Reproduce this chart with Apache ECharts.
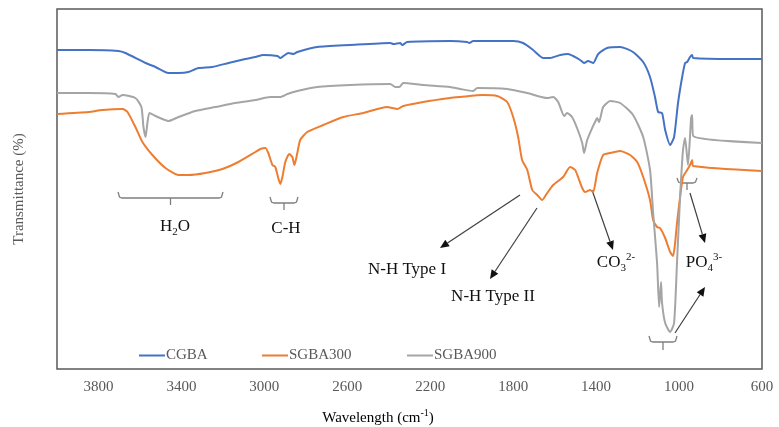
<!DOCTYPE html>
<html>
<head>
<meta charset="utf-8">
<script src="https://cdn.jsdelivr.net/npm/echarts@6/dist/echarts.min.js"></script>
<style>
  html, body { margin: 0; padding: 0; background: #fff; }
  #chart { width: 779px; height: 427px; }
</style>
</head>
<body>
<div id="chart"></div>
<script>
// FTIR spectra: wavenumber (cm-1) and relative transmittance (offset traces)
const seriesNames = ['CGBA', 'SGBA300', 'SGBA900'];

const cgbaWave = [4000,3848,3704,3670,3573,3525,3463,3414,3366,3318,3251,3173,3092,3043,3005,2937,2923,2908,2884,2860,2841,2745,2586,2393,2378,2345,2335,2311,2104,2022,2012,1993,1800,1752,1704,1655,1622,1573,1535,1511,1477,1458,1439,1414,1390,1347,1284,1222,1173,1140,1116,1101,1082,1067,1043,1024,1005,985,971,961,947,937,932,740,600];
const cgbaT = [159.5,159.5,159,158,153,151,148,148,148.5,150.5,151,153,155,156,157,156.5,155.5,156.5,158,157.5,158.5,161,162,163,162.5,163,162,163.5,164,163.5,163,164,164,163,159.5,155.5,155.5,157,157.5,156.5,154.5,153,154,153,157.5,160.5,161,158.5,153.5,146,136,128.5,128,119.5,112,116,133,146,153,153.5,156,157,155.5,155,155];

const sgba300Wave = [4000,3848,3781,3684,3660,3622,3588,3540,3477,3414,3366,3284,3202,3125,3043,3019,2995,2981,2961,2947,2933,2923,2913,2899,2880,2865,2855,2841,2827,2793,2716,2619,2523,2407,2383,2359,2330,2234,2104,2055,1945,1877,1829,1800,1776,1757,1732,1708,1684,1660,1636,1607,1559,1525,1501,1487,1467,1453,1429,1414,1395,1366,1332,1284,1236,1202,1173,1140,1125,1106,1092,1067,1043,1029,1019,1010,995,981,961,947,937,932,600];
const sgba300T = [127.5,128.5,129.5,130,128.5,121,113.5,107,100.5,97,97,98,100,103.5,108.5,110,110.5,108,102,101,95.5,92.5,96,103.5,107.5,106,102,108,114.5,118.5,122,126,128,131,130.5,130,131.5,133.5,135.5,136,137,136.5,133.5,126,116,104.5,99.5,89.5,87,84.5,88,92,96,101,99.5,96,90.5,88.5,89.5,88.5,98,107,108,109,107,103.5,96,84.5,74.5,71,70.5,65.5,58.5,56.5,63,73,86,96,99.5,102,104.5,101.5,99];

const sgba900Wave = [4000,3848,3718,3704,3684,3622,3593,3583,3573,3564,3554,3525,3492,3463,3414,3333,3236,3140,3043,2971,2923,2889,2841,2745,2586,2393,2369,2349,2330,2234,2104,2055,1993,1973,1829,1732,1636,1607,1583,1554,1540,1516,1492,1467,1458,1443,1419,1405,1395,1386,1366,1332,1284,1222,1173,1140,1125,1106,1096,1087,1082,1067,1043,1024,1010,995,981,971,957,942,937,932,600];
const sgba900T = [138,138,137.5,136,137,135.5,131,121,116,123,128,126.5,125,124,126,129,131,133,134.5,136,136,137.5,139,141,142,142.5,141,141,143,142,141,140,139,140.5,140,138,135.5,136,133.5,126.5,128,126,120.5,113,108,114.5,120.5,123.5,125.5,123.5,131,134,133,127,116,99.5,78,53,31,43.5,33,23,18.5,23,53,86,109.5,115.5,102,125.5,127,116.5,113];

const xMin = 600, xMax = 4000, xStep = 200, xLabelStep = 400;

function pairs(xs, ys) {
  const out = [];
  for (let i = 0; i < Math.min(xs.length, ys.length); i++) out.push([xs[i], ys[i]]);
  return out;
}

const serif = '"Liberation Serif", "Times New Roman", serif';
const axisGrey = '#595959';
const colors = ['#4472C4', '#ED7D31', '#A5A5A5'];

const chart = echarts.init(document.getElementById('chart'), null, { renderer: 'canvas' });

// helpers for annotation graphics
function brace(x1, x2, y, up, tickDown) {
  const cx = (x1 + x2) / 2;
  return [
    { type: 'polyline', silent: true,
      shape: { points: [[x1, y - up], [x1 + 1.5, y - 1], [x1 + 4, y], [x2 - 4, y], [x2 - 1.5, y - 1], [x2, y - up]] },
      style: { stroke: '#7f7f7f', lineWidth: 1.3, fill: null } },
    { type: 'line', silent: true,
      shape: { x1: cx, y1: y, x2: cx, y2: y + tickDown },
      style: { stroke: '#7f7f7f', lineWidth: 1.3 } }
  ];
}
function arrow(x1, y1, x2, y2) {
  const ang = Math.atan2(y2 - y1, x2 - x1);
  const len = 9, half = 4;
  const bx = x2 - len * Math.cos(ang), by = y2 - len * Math.sin(ang);
  const px = -Math.sin(ang) * half, py = Math.cos(ang) * half;
  return [
    { type: 'line', silent: true,
      shape: { x1: x1, y1: y1, x2: bx, y2: by },
      style: { stroke: '#3f3f3f', lineWidth: 1.2 } },
    { type: 'polygon', silent: true,
      shape: { points: [[x2, y2], [bx + px, by + py], [bx - px, by - py]] },
      style: { fill: '#111' } }
  ];
}
const richLabel = {
  a: { fontFamily: serif, fontSize: 17, color: '#111', lineHeight: 22, verticalAlign: 'middle' },
  sub: { fontFamily: serif, fontSize: 11, color: '#111', lineHeight: 22, verticalAlign: 'bottom' },
  sup: { fontFamily: serif, fontSize: 11, color: '#111', lineHeight: 22, verticalAlign: 'top' }
};
function label(x, y, text) {
  return { type: 'text', silent: true, x: x, y: y,
    style: { text: text, rich: richLabel, align: 'center', verticalAlign: 'middle',
      fontFamily: serif, fontSize: 17, fill: '#111' } };
}

const graphics = [].concat(
  brace(118, 223, 198, 6, 7),
  brace(270, 298, 203, 6, 7),
  brace(677, 697, 183, 5, 7),
  brace(649, 677, 342, 6, 8),
  arrow(520, 195, 440, 248),
  arrow(537, 208, 490, 279),
  arrow(592, 190, 613, 250),
  arrow(690, 193, 705, 243),
  arrow(675, 333, 705, 287),
  [
    label(175, 227, '{a|H}{sub|2}{a|O}'),
    label(286, 229, '{a|C-H}'),
    label(407, 270, '{a|N-H Type I}'),
    label(493, 297, '{a|N-H Type II}'),
    label(616, 263, '{a|CO}{sub|3}{sup|2-}'),
    label(704, 263, '{a|PO}{sub|4}{sup|3-}'),
    { type: 'text', silent: true, x: 378, y: 418,
      style: { text: '{t|Wavelength (cm}{s|-1}{t|)}', align: 'center', verticalAlign: 'middle',
        rich: {
          t: { fontFamily: serif, fontSize: 15, color: axisGrey, lineHeight: 20, verticalAlign: 'middle' },
          s: { fontFamily: serif, fontSize: 10, color: axisGrey, lineHeight: 20, verticalAlign: 'top' }
        } } },
    { type: 'text', silent: true, x: 19, y: 189, rotation: Math.PI / 2,
      style: { text: 'Transmittance (%)', align: 'center', verticalAlign: 'middle',
        fontFamily: serif, fontSize: 15, fill: axisGrey } }
  ]
);

// one legend entry per component so each sits at its own offset
const legendLeft = [139, 262, 407];
const legends = seriesNames.map((name, i) => ({
  left: legendLeft[i], top: 348, padding: 0,
  itemWidth: 26, itemHeight: 2, icon: 'rect',
  textStyle: { fontFamily: serif, fontSize: 15, color: axisGrey, padding: [0, 0, 0, -4] },
  data: [name]
}));

chart.setOption({
  animation: false,
  backgroundColor: '#fff',
  color: colors,
  grid: { left: 57, right: 17, top: 9, bottom: 58, show: true, borderColor: axisGrey, borderWidth: 1.5, backgroundColor: 'transparent' },
  legend: legends,
  xAxis: {
    type: 'value', inverse: true, min: xMin, max: xMax, interval: xStep,
    axisLine: { show: false }, axisTick: { show: false }, splitLine: { show: false },
    axisLabel: {
      margin: 11, fontFamily: serif, fontSize: 15, color: axisGrey,
      formatter: v => ((v - xMin) % xLabelStep === 0 && v < xMax) ? String(v) : ''
    }
  },
  yAxis: {
    type: 'value', min: 0, max: 180,
    axisLine: { show: false }, axisTick: { show: false }, splitLine: { show: false }, axisLabel: { show: false }
  },
  series: [
    { name: seriesNames[0], type: 'line', data: pairs(cgbaWave, cgbaT), showSymbol: false, symbol: 'none', smooth: 0.2, lineStyle: { width: 2 } },
    { name: seriesNames[1], type: 'line', data: pairs(sgba300Wave, sgba300T), showSymbol: false, symbol: 'none', smooth: 0.2, lineStyle: { width: 2 } },
    { name: seriesNames[2], type: 'line', data: pairs(sgba900Wave, sgba900T), showSymbol: false, symbol: 'none', smooth: 0.2, lineStyle: { width: 2 } }
  ],
  graphic: graphics
});
</script>
</body>
</html>
